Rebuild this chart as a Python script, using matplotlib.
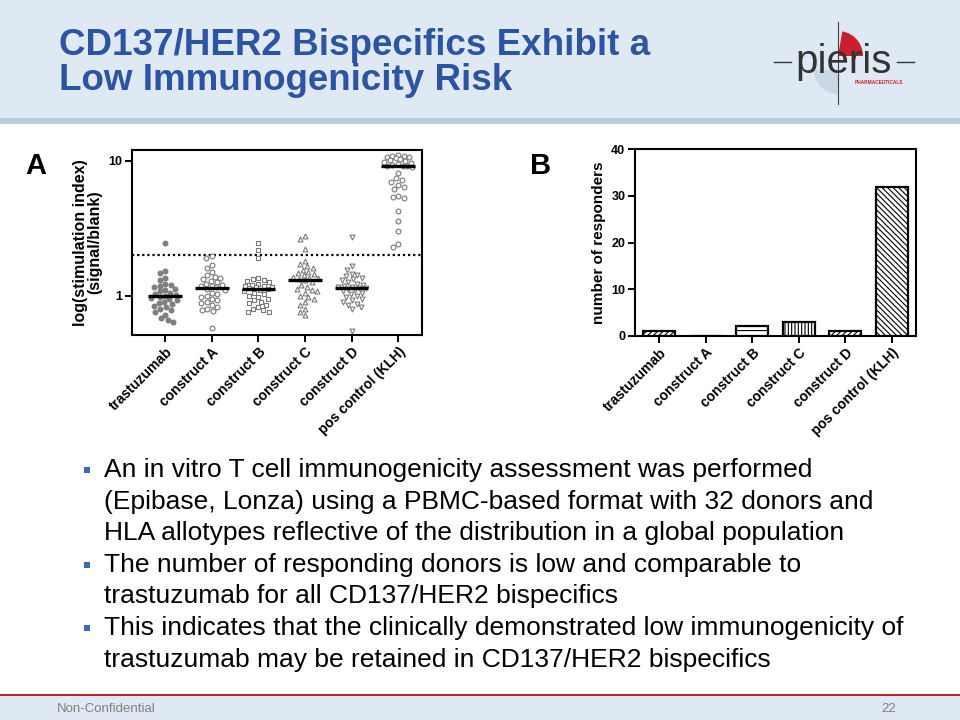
import numpy as np
import matplotlib
matplotlib.use("Agg")
import matplotlib.pyplot as plt
from matplotlib.patches import Rectangle, Wedge

plt.rcParams['font.family'] = ['Liberation Sans', 'DejaVu Sans']
plt.rcParams['hatch.linewidth'] = 0.8

# ---------------- data ----------------
categories = ["trastuzumab", "construct A", "construct B", "construct C",
              "construct D", "pos control (KLH)"]

si_trastuzumab = [2.45, 1.52, 1.47, 1.35, 1.30, 1.22, 1.20, 1.18, 1.15, 1.12, 1.10,
                  1.08, 1.05, 1.03, 1.01, 1.00, 0.98, 0.96, 0.94, 0.92, 0.90, 0.88,
                  0.86, 0.84, 0.82, 0.80, 0.78, 0.76, 0.72, 0.68, 0.66, 0.64]
si_construct_a = [1.95, 1.90, 1.69, 1.60, 1.50, 1.42, 1.38, 1.35, 1.32, 1.28, 1.25,
                  1.22, 1.19, 1.18, 1.17, 1.15, 1.12, 1.10, 1.05, 1.02, 1.00, 0.97,
                  0.95, 0.92, 0.90, 0.88, 0.85, 0.82, 0.80, 0.78, 0.77, 0.57]
si_construct_b = [2.45, 2.18, 1.90, 1.35, 1.32, 1.30, 1.28, 1.25, 1.22, 1.20, 1.18,
                  1.17, 1.16, 1.15, 1.13, 1.12, 1.10, 1.08, 1.05, 1.02, 1.00, 0.98,
                  0.95, 0.92, 0.90, 0.88, 0.85, 0.82, 0.80, 0.78, 0.76, 0.75]
si_construct_c = [2.75, 2.62, 2.22, 1.80, 1.72, 1.65, 1.60, 1.55, 1.50, 1.47, 1.44,
                  1.41, 1.38, 1.36, 1.34, 1.32, 1.30, 1.25, 1.20, 1.15, 1.12, 1.10,
                  1.08, 1.05, 1.00, 0.97, 0.95, 0.90, 0.85, 0.80, 0.76, 0.72]
si_construct_d = [2.72, 1.65, 1.55, 1.45, 1.42, 1.40, 1.35, 1.32, 1.30, 1.25, 1.22,
                  1.20, 1.18, 1.16, 1.15, 1.14, 1.13, 1.12, 1.10, 1.08, 1.05, 1.02,
                  1.00, 0.97, 0.95, 0.92, 0.90, 0.87, 0.85, 0.82, 0.79, 0.55]
si_pos_control = [11.0, 10.9, 10.8, 10.7, 10.6, 10.5, 10.3, 10.2, 10.0, 9.8, 9.6,
                  9.4, 9.3, 9.2, 9.15, 9.1, 9.05, 8.1, 7.4, 7.2, 7.0, 6.6, 6.4, 6.2,
                  5.5, 5.4, 5.3, 4.2, 3.6, 3.0, 2.4, 2.3]
threshold = 2.0

responders = [1, 0, 2, 3, 1, 32]

title_lines = "CD137/HER2 Bispecifics Exhibit a\nLow Immunogenicity Risk"
bullets = [
    "An in vitro T cell immunogenicity assessment was performed\n(Epibase, Lonza) using a PBMC-based format with 32 donors and\nHLA allotypes reflective of the distribution in a global population",
    "The number of responding donors is low and comparable to\ntrastuzumab for all CD137/HER2 bispecifics",
    "This indicates that the clinically demonstrated low immunogenicity of\ntrastuzumab may be retained in CD137/HER2 bispecifics",
]

# ---------------- figure ----------------
W, H = 960, 720
fig = plt.figure(figsize=(W / 100, H / 100), dpi=100)
fig.patch.set_facecolor("white")


def fx(px):
    return px / W


def fy(py):
    return 1 - py / H


# background axes in pixel coordinates (y measured upwards = 720 - py)
bg = fig.add_axes([0, 0, 1, 1], zorder=-5)
bg.set_xlim(0, W)
bg.set_ylim(0, H)
bg.axis("off")

# header band
bg.add_patch(Rectangle((0, H - 118), W, 118, facecolor="#dfe9f3", edgecolor="none"))
bg.add_patch(Rectangle((0, H - 124), W, 6, facecolor="#b8cce2", edgecolor="none"))

# logo
bg.add_patch(Wedge((838, H - 56), 25, 0, 80, facecolor="#c8202e", edgecolor="none"))
bg.add_patch(Wedge((838, H - 70), 24, 180, 270, facecolor="#c9d8e6", edgecolor="none"))
bg.plot([838, 838], [H - 22, H - 104], color="#444444", lw=0.8)
bg.plot([774, 791], [H - 62, H - 62], color="#333333", lw=1)
bg.plot([897, 914], [H - 62, H - 62], color="#333333", lw=1)

fig.text(fx(59), fy(63), title_lines, fontsize=26.5, fontweight="bold", color="#2c54a2",
         ha="left", va="center", linespacing=0.98)
fig.text(fx(844), fy(73), "pieris", fontsize=29, color="#333333", ha="center",
         va="baseline")
fig.text(fx(879), fy(82), "PHARMACEUTICALS", fontsize=3.4, color="#c8202e", ha="center",
         va="center", fontweight="bold")

# footer
bg.add_patch(Rectangle((0, 0), W, 24, facecolor="#dfe9f3", edgecolor="none"))
bg.add_patch(Rectangle((0, H - 696), W, 2.5, facecolor="#b5262f", edgecolor="none"))
fig.text(fx(57), fy(709), "Non-Confidential", fontsize=9.5, color="#808080",
         ha="left", va="center")
fig.text(fx(896), fy(709), "22", fontsize=9.5, color="#808080", ha="right", va="center")

# panel letters
fig.text(fx(36), fy(166), "A", fontsize=21, fontweight="bold", ha="center", va="center")
fig.text(fx(541), fy(166), "B", fontsize=21, fontweight="bold", ha="center", va="center")

# ---------------- panel A ----------------
axA = fig.add_axes([fx(132), fy(335), (422 - 132) / W, (335 - 150) / H])
axA.set_yscale("log")
axA.set_ylim(0.51, 12.0)
axA.set_xlim(-0.71, 5.51)
axA.set_yticks([1, 10])
axA.set_yticklabels(["1", "10"])
axA.yaxis.set_minor_locator(matplotlib.ticker.NullLocator())
axA.set_xticks(range(len(categories)))
axA.set_xticklabels(categories, rotation=45, ha="right", rotation_mode="anchor",
                    fontsize=10, fontweight="bold")
for lbl in axA.get_yticklabels():
    lbl.set_fontweight("bold")
    lbl.set_fontsize(9)
axA.tick_params(axis="both", direction="out", length=5, width=1.4, pad=2)
for s in axA.spines.values():
    s.set_linewidth(1.5)
axA.set_ylabel("log(stimulation index)\n(signal/blank)", fontsize=11.5,
               fontweight="bold", labelpad=4, linespacing=1.0)

groups = [si_trastuzumab, si_construct_a, si_construct_b, si_construct_c,
          si_construct_d, si_pos_control]
markers = ["o", "o", "s", "^", "v", "o"]
faces = ["#808080", "white", "white", "white", "white", "white"]

fig.canvas.draw()
d = 5.6       # pixel spacing for swarm
max_off = 14  # max horizontal spread in pixels


def swarm_offsets(vals, xc):
    pts = axA.transData.transform(np.column_stack([np.full(len(vals), xc), vals]))
    ys = pts[:, 1]
    ppu = axA.transData.transform((1, 1))[0] - axA.transData.transform((0, 1))[0]
    cands = sorted(np.arange(-max_off, max_off + 0.01, 0.5), key=lambda c: (abs(c), c))
    placed = []
    xs = np.zeros(len(vals))
    for i in np.argsort(-ys):
        y = ys[i]
        best, best_d = 0.0, -1
        for c in cands:
            md = min([np.hypot(c - px, y - py) for px, py in placed] or [1e9])
            if md >= d:
                best = c
                break
            if md > best_d + 0.3:
                best, best_d = c, md
        placed.append((best, y))
        xs[i] = best
    return xc + xs / ppu


for i, vals in enumerate(groups):
    xs = swarm_offsets(vals, i)
    axA.scatter(xs, vals, s=12, marker=markers[i], facecolor=faces[i],
                edgecolor="#7a7a7a", linewidths=0.8, zorder=3)
    med = np.median(vals)
    axA.plot([i - 0.36, i + 0.36], [med, med], color="black", lw=2.4, zorder=4,
             solid_capstyle="butt")

axA.axhline(threshold, color="black", lw=1.6, linestyle=(0, (1, 1.3)), zorder=2)

# ---------------- panel B ----------------
axB = fig.add_axes([fx(635), fy(335.7), (916 - 635) / W, (335.7 - 149.3) / H])
hatches = ["//////", "", "---", "|||||", "//////", "\\\\\\\\\\\\"]
x = np.arange(len(categories))
bars = axB.bar(x, responders, width=0.69, color="white", edgecolor="black",
               linewidth=1.6, zorder=3)
for b, h in zip(bars, hatches):
    b.set_hatch(h)
axB.set_xlim(-0.52, 5.52)
axB.set_ylim(0, 40)
axB.set_yticks([0, 10, 20, 30, 40])
axB.set_xticks(x)
axB.set_xticklabels(categories, rotation=45, ha="right", rotation_mode="anchor",
                    fontsize=10, fontweight="bold")
for lbl in axB.get_yticklabels():
    lbl.set_fontweight("bold")
    lbl.set_fontsize(9)
axB.tick_params(axis="both", direction="out", length=5, width=1.4, pad=2)
for s in axB.spines.values():
    s.set_linewidth(1.5)
axB.set_ylabel("number of responders", fontsize=11, fontweight="bold", labelpad=4)

# ---------------- bullets ----------------
line_h = 31.6
y0 = 470
line_idx = 0
for btxt in bullets:
    lines = btxt.split("\n")
    bg.add_patch(Rectangle((84, H - (y0 + line_idx * line_h + 3)), 6, 6,
                           facecolor="#3a68c0", edgecolor="none"))
    for ln in lines:
        fig.text(fx(104), fy(y0 + line_idx * line_h), ln, fontsize=19, ha="left",
                 va="center", color="black")
        line_idx += 1

fig.savefig("out.png", dpi=100)
